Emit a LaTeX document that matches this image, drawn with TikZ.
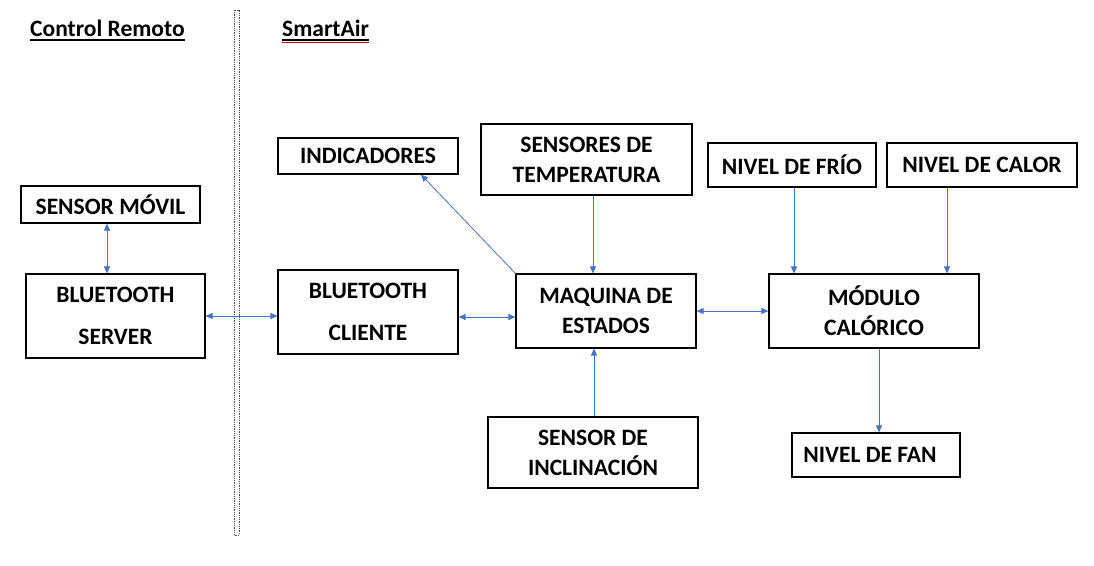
\documentclass[tikz,border=0pt]{standalone}
\usepackage{fontspec}
\setmainfont{Carlito}
\usetikzlibrary{arrows.meta,calc}

\definecolor{flecha}{HTML}{4472C4}

\begin{document}
\begin{tikzpicture}[
    x=1pt,y=-1pt,
    >={Triangle[length=7pt,width=6pt]},
    block/.style={draw=black,line width=1.1pt,inner sep=0pt,align=center,
        font=\fontsize{23.5}{30}\selectfont\bfseries},
    block wide/.style={block,font=\fontsize{23.5}{42}\selectfont\bfseries},
    heading/.style={inner sep=0pt,anchor=base west,font=\fontsize{23.5}{28}\selectfont\bfseries},
    link/.style={flecha,line width=0.8pt},
    divider/.style={black!70,densely dotted,line width=0.8pt}
]

\useasboundingbox (0,0) rectangle (1094,565);

% Títulos
\node[heading] (remoto) at (30,36) {Control Remoto};
\node[heading] (smart) at (282,36) {SmartAir};
\draw[line width=1.4pt] ([yshift=-4pt]remoto.base west) -- ([yshift=-4pt]remoto.base east);
\draw[line width=1.4pt] ([yshift=-4pt]smart.base west) -- ([yshift=-4pt]smart.base east);
\draw[red!75!black,line width=0.9pt] ([yshift=-6.5pt]smart.base west) -- ([yshift=-6.5pt]smart.base east);

% Separador
\draw[divider] (234,10) rectangle (239,535);

% Control remoto
\node[block,minimum width=179pt,minimum height=37pt] (movil) at (110.5,204.5) {SENSOR MÓVIL};
\node[block wide,minimum width=179pt,minimum height=84pt] (server) at (115.5,316) {BLUETOOTH\\SERVER};

% SmartAir
\node[block,minimum width=180pt,minimum height=36pt] (indic) at (368,156) {INDICADORES};
\node[block wide,minimum width=180pt,minimum height=84pt] (cliente) at (368,312) {BLUETOOTH\\CLIENTE};
\node[block,minimum width=211pt,minimum height=71pt] (temp) at (586.5,159.5) {SENSORES DE\\TEMPERATURA};
\node[block,minimum width=180pt,minimum height=74pt] (maquina) at (606,311) {MAQUINA DE\\ESTADOS};
\node[block,minimum width=210pt,minimum height=71pt] (inclin) at (593,452.5) {SENSOR DE\\INCLINACIÓN};
\node[block,minimum width=168pt,minimum height=44pt] (frio) at (792,165) {NIVEL DE FRÍO};
\node[block,minimum width=190pt,minimum height=44pt] (calor) at (982,165) {NIVEL DE CALOR};
\node[block,minimum width=210pt,minimum height=74pt] (modulo) at (874,311) {MÓDULO\\CALÓRICO};
\node[block,minimum width=168pt,minimum height=44pt] (fan) at (876,455) {NIVEL DE FAN\hspace*{12pt}};

% Conexiones
\draw[link,<->] ([xshift=-3.5pt]movil.south) -- ([xshift=-3.5pt]movil.south |- server.north);
\draw[link,<->] (server.east) -- (server.east -| cliente.west);
\draw[link,<->] ([yshift=-5pt]cliente.east) -- ([yshift=-5pt]cliente.east -| maquina.west);
\draw[link,<->] (maquina.east) -- (modulo.west);
\draw[link,->] (maquina.north west) -- ([xshift=53pt]indic.south);
\draw[link,->] ([xshift=6.5pt]temp.south) -- ([xshift=6.5pt]temp.south |- maquina.north);
\draw[link,->] ([xshift=1pt]inclin.north) -- ([xshift=1pt]inclin.north |- maquina.south);
\draw[link,->] ([xshift=2pt]frio.south) -- ([xshift=2pt]frio.south |- modulo.north);
\draw[link,->] ([xshift=-35pt]calor.south) -- ([xshift=-35pt]calor.south |- modulo.north);
\draw[link,->] ([xshift=5pt]modulo.south) -- ([xshift=5pt]modulo.south |- fan.north);

\end{tikzpicture}
\end{document}
